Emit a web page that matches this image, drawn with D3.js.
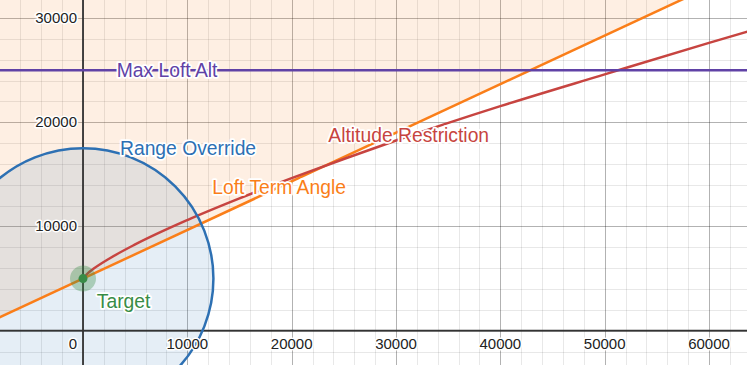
<!DOCTYPE html>
<html>
<head>
<meta charset="utf-8">
<script src="https://cdn.jsdelivr.net/npm/d3@7.9.0/dist/d3.min.js"></script>
<style>
  html, body { margin: 0; padding: 0; background: #fff; }
  svg { display: block; }
  text { font-family: Arial, "Liberation Sans", sans-serif; }
  .halo { paint-order: stroke; stroke: #fff; stroke-linejoin: round; }
</style>
</head>
<body>
<svg id="chart" width="747" height="365"></svg>
<script>
// visible window of the graph (data units)
const xDomain = [-7955, 63642];
const yDomain = [-3292, 31737];

const xTickLabels = [0, 10000, 20000, 30000, 40000, 50000, 60000];
const yTickLabels = [10000, 20000, 30000];

// the target point
const target = { x: 0, y: 5000 };

// range override circle round the target
const rangeRadius = 12500;

// max loft altitude
const maxLoftAlt = 25000;

// loft term angle line, read at both ends of the window
const loftLine = [
  { x: -8000, y: 1270 },
  { x: 64000, y: 34850 }
];

// altitude restriction curve
const altRestriction = [
  { x: 0, y: 5000 },
  { x: 500, y: 5550 },
  { x: 1000, y: 5940 },
  { x: 2500, y: 6910 },
  { x: 5000, y: 8280 },
  { x: 10000, y: 10620 },
  { x: 15000, y: 12700 },
  { x: 20000, y: 14640 },
  { x: 25000, y: 16480 },
  { x: 30000, y: 18250 },
  { x: 40000, y: 21550 },
  { x: 50000, y: 24600 },
  { x: 60000, y: 27620 },
  { x: 64000, y: 28800 }
];

const labels = [
  { text: 'Max Loft Alt', x: 3230, y: 25000, color: '#6042a6' },
  { text: 'Range Override', x: 3546, y: 17530, color: '#2d70b3' },
  { text: 'Loft Term Angle', x: 12395, y: 13720, color: '#fa7e19' },
  { text: 'Altitude Restriction', x: 23515, y: 18780, color: '#c74440' },
  { text: 'Target', x: 1320, y: 2850, color: '#388c46' }
];

const width = 747, height = 365;
const svg = d3.select('#chart');

const x = d3.scaleLinear().domain(xDomain).range([0, width]);
const y = d3.scaleLinear().domain(yDomain).range([height, 0]);

// grid
const minorX = d3.range(-6000, 64001, 2000);
const minorY = d3.range(-2000, 32001, 2000);
const grid = svg.append('g');

grid.selectAll('.vx')
  .data(minorX)
  .join('line')
  .attr('x1', d => Math.round(x(d)) + 0.5)
  .attr('x2', d => Math.round(x(d)) + 0.5)
  .attr('y1', 0).attr('y2', height)
  .attr('stroke', d => d % 10000 === 0 ? 'rgba(0,0,0,0.3)' : 'rgba(0,0,0,0.09)')
  .attr('stroke-width', 1);

grid.selectAll('.hy')
  .data(minorY)
  .join('line')
  .attr('y1', d => Math.round(y(d)) + 0.5)
  .attr('y2', d => Math.round(y(d)) + 0.5)
  .attr('x1', 0).attr('x2', width)
  .attr('stroke', d => d % 10000 === 0 ? 'rgba(0,0,0,0.3)' : 'rgba(0,0,0,0.09)')
  .attr('stroke-width', 1);

// shaded region above the loft line
const area = d3.area()
  .x(d => x(d.x))
  .y0(d => y(d.y))
  .y1(() => y(yDomain[1]) - 5);

svg.append('path')
  .attr('d', area(loftLine))
  .attr('fill', '#fa7e19')
  .attr('fill-opacity', 0.12);

// range circle fill
svg.append('circle')
  .attr('cx', x(target.x))
  .attr('cy', y(target.y))
  .attr('r', x(rangeRadius) - x(0))
  .attr('fill', '#2d70b3')
  .attr('fill-opacity', 0.12);

// axes
svg.append('line')
  .attr('x1', x(0)).attr('x2', x(0))
  .attr('y1', 0).attr('y2', height)
  .attr('stroke', '#333').attr('stroke-width', 1.8);

svg.append('line')
  .attr('x1', 0).attr('x2', width)
  .attr('y1', y(0)).attr('y2', y(0))
  .attr('stroke', '#333').attr('stroke-width', 1.8);

// loft line
const line = d3.line().x(d => x(d.x)).y(d => y(d.y));

svg.append('path')
  .attr('d', line(loftLine))
  .attr('fill', 'none')
  .attr('stroke', '#fa7e19')
  .attr('stroke-width', 2.5);

// altitude restriction
svg.append('path')
  .attr('d', line.curve(d3.curveMonotoneX)(altRestriction))
  .attr('fill', 'none')
  .attr('stroke', '#c74440')
  .attr('stroke-width', 2.5);

// max loft alt
svg.append('line')
  .attr('x1', 0).attr('x2', width)
  .attr('y1', y(maxLoftAlt)).attr('y2', y(maxLoftAlt))
  .attr('stroke', '#6042a6')
  .attr('stroke-width', 2.5);

// range circle outline
svg.append('circle')
  .attr('cx', x(target.x))
  .attr('cy', y(target.y))
  .attr('r', x(rangeRadius) - x(0))
  .attr('fill', 'none')
  .attr('stroke', '#2d70b3')
  .attr('stroke-width', 2.5);

// target point
svg.append('circle')
  .attr('cx', x(target.x)).attr('cy', y(target.y))
  .attr('r', 13)
  .attr('fill', '#388c46').attr('fill-opacity', 0.35);

svg.append('circle')
  .attr('cx', x(target.x)).attr('cy', y(target.y))
  .attr('r', 4.5)
  .attr('fill', '#388c46');

// tick labels
svg.selectAll('.xl')
  .data(xTickLabels)
  .join('text')
  .attr('class', 'halo')
  .attr('x', d => d === 0 ? x(d) - 10 : x(d))
  .attr('y', y(0) + 18)
  .attr('text-anchor', 'middle')
  .attr('font-size', 15)
  .attr('fill', '#222')
  .attr('stroke-width', 3)
  .text(d => d);

svg.selectAll('.yl')
  .data(yTickLabels)
  .join('text')
  .attr('class', 'halo')
  .attr('x', x(0) - 6)
  .attr('y', d => y(d) + 5)
  .attr('text-anchor', 'end')
  .attr('font-size', 15)
  .attr('fill', '#222')
  .attr('stroke-width', 3)
  .text(d => d);

// curve labels
svg.selectAll('.lab')
  .data(labels)
  .join('text')
  .attr('class', 'halo')
  .attr('x', d => x(d.x))
  .attr('y', d => y(d.y))
  .attr('dy', '0.35em')
  .attr('font-size', 19.3)
  .attr('fill', d => d.color)
  .attr('stroke-width', 3.5)
  .text(d => d.text);
</script>
</body>
</html>
